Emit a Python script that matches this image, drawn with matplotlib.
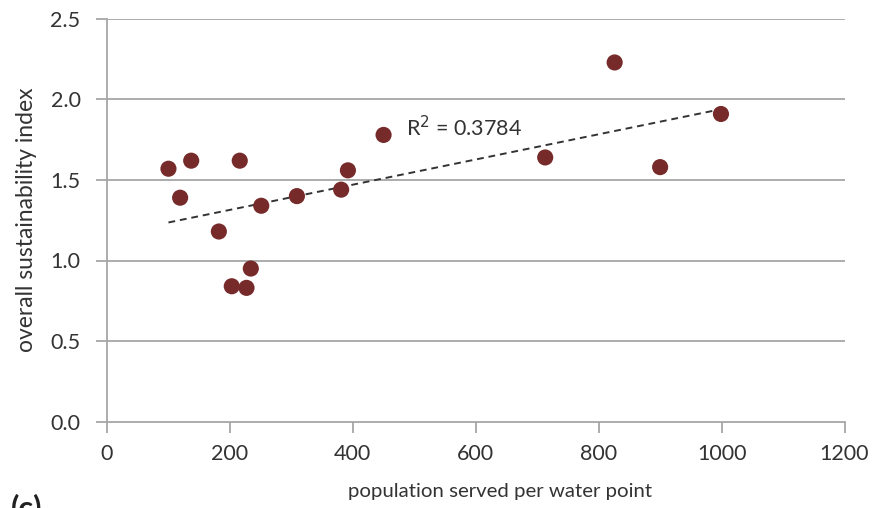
import numpy as np
import matplotlib
matplotlib.use("Agg")
import matplotlib.pyplot as plt

plt.rcParams['font.family'] = ['Lato', 'DejaVu Sans']

# population served per water point vs. overall sustainability index
population = [100, 119, 137, 182, 203, 216, 227, 234, 251, 309,
              381, 392, 450, 713, 826, 900, 999]
index = [1.57, 1.39, 1.62, 1.18, 0.84, 1.62, 0.83, 0.95, 1.34, 1.40,
         1.44, 1.56, 1.78, 1.64, 2.23, 1.58, 1.91]
r2_label = "R$^2$ = 0.3784"

x_ticks = [0, 200, 400, 600, 800, 1000, 1200]
y_ticks = [0.0, 0.5, 1.0, 1.5, 2.0, 2.5]

fig = plt.figure(figsize=(8.74, 5.08), dpi=100)
ax = fig.add_axes([107 / 874, 1 - 421.5 / 508, 737.5 / 874, 402.5 / 508])

grid_col = '#a6a6a6'
for yv in y_ticks[1:]:
    ax.axhline(yv, color=grid_col, lw=1.3, zorder=1)

ax.scatter(population, index, s=135, color='#772a2a', edgecolors='none', zorder=3)

# linear trendline over the data range
coef = np.polyfit(population, index, 1)
xs = np.array([min(population), max(population)])
ax.plot(xs, np.polyval(coef, xs), ls=(0, (3.5, 2.5)), color='#333333', lw=1.4, zorder=2)
ax.text(487, 1.823, r2_label, fontsize=15.5, va='center', ha='left', color='#333333')

ax.set_xlim(0, 1200)
ax.set_ylim(0, 2.5)
ax.set_xticks(x_ticks)
ax.set_yticks(y_ticks)
ax.set_yticklabels([f"{v:.1f}" for v in y_ticks])

for s in ['top', 'right']:
    ax.spines[s].set_visible(False)
for s in ['left', 'bottom']:
    ax.spines[s].set_color(grid_col)
    ax.spines[s].set_linewidth(1.3)
ax.tick_params(axis='both', direction='out', length=8, width=1.3, color=grid_col,
               labelsize=15.5, labelcolor='#333333')
ax.tick_params(axis='y', pad=11)
ax.tick_params(axis='x', pad=8)

ax.set_xlabel("population served per water point", fontsize=14.7, color='#333333', labelpad=14)
ax.xaxis.label.set_x(0.533)
ax.set_ylabel("overall sustainability index", fontsize=16.5, color='#333333', labelpad=10)

fig.text(0.012, 1 - 493 / 508, "(c)", fontsize=22, fontweight='bold', va='top', ha='left', color='#222222')

fig.savefig("out.png", dpi=100)
